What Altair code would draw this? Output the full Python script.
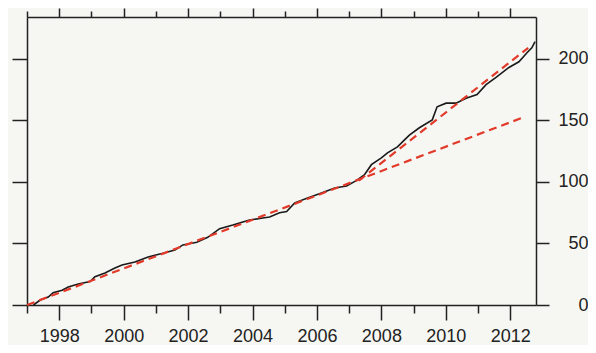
import altair as alt
import pandas as pd

# Cumulative count (black line)
years = [1997.2, 1997.41, 1997.66, 1997.81, 1998.09, 1998.28, 1998.59, 1998.96,
         1999.11, 1999.42, 1999.73, 1999.95, 2000.35, 2000.76, 2001.0, 2001.22,
         2001.59, 2001.84, 2002.27, 2002.61, 2002.98, 2003.39, 2003.7, 2003.91,
         2004.32, 2004.53, 2004.84, 2005.06, 2005.31, 2005.71, 2006.14, 2006.55,
         2006.92, 2007.22, 2007.47, 2007.69, 2008.0, 2008.19, 2008.5, 2008.71,
         2008.87, 2009.18, 2009.58, 2009.73, 2010.01, 2010.32, 2010.63, 2010.97,
         2011.25, 2011.56, 2011.96, 2012.27, 2012.52, 2012.67, 2012.77]
counts = [0, 4, 6.5, 10, 12, 14.6, 17, 19,
          23, 26, 30, 32.5, 35, 39, 40.7, 42,
          44.7, 48.8, 51, 55, 62, 65, 67.5, 69,
          70.7, 71.5, 75, 76, 83, 87, 91, 95,
          96.7, 101, 105.7, 114, 119.5, 123.6, 128.5, 134,
          138, 144, 150.4, 161, 164, 164, 168, 171,
          179, 185, 193, 197.6, 205, 209, 214]

# Red dashed trend lines
fit_series = ["early", "early", "late", "late"]
fit_years = [1997.0, 2012.46, 2007.3, 2012.56]
fit_counts = [0, 153, 101, 209]

tick_years = list(range(1997, 2013))
y_ticks = [0, 50, 100, 150, 200]

df = pd.DataFrame({"year": years, "count": counts})
fit = pd.DataFrame({"series": fit_series, "year": fit_years, "count": fit_counts})

font = "Liberation Sans"
ink = "#222222"
xscale = alt.Scale(domain=[1997, 2012.8], nice=False, zero=False)
yscale = alt.Scale(domain=[0, 234], nice=False, zero=False)

common = dict(grid=False, title=None, domainColor=ink, domainWidth=1.5,
              tickColor=ink, tickWidth=1.5, labelFlush=False)

x_bottom = alt.Axis(orient="bottom", values=tick_years, format="d",
                    labelExpr="datum.value % 2 == 0 ? datum.label : ''",
                    tickSize=alt.ExprRef("datum.value % 2 == 0 ? 15 : 8"),
                    labelPadding=21, labelBaseline="alphabetic",
                    labelFont=font, labelFontSize=18, labelColor=ink, **common)
x_top = alt.Axis(orient="top", values=tick_years, labels=False,
                 tickSize=alt.ExprRef("datum.value % 2 == 0 ? 9 : 6"), **common)
y_left = alt.Axis(orient="left", values=y_ticks, labels=False, tickSize=15, **common)
y_right = alt.Axis(orient="right", values=y_ticks, tickSize=13, labelAlign="right",
                   labelPadding=39, labelBaseline="middle", labelFont=font,
                   labelFontSize=18, labelColor=ink, **common)

black = alt.Chart(df).mark_line(color="#1a1a1a", strokeWidth=1.6).encode(
    x=alt.X("year:Q", scale=xscale, axis=x_bottom),
    y=alt.Y("count:Q", scale=yscale, axis=y_left),
)

red = alt.Chart(fit).mark_line(color="#e23a2a", strokeWidth=2.2, strokeDash=[8, 5]).encode(
    x=alt.X("year:Q", scale=xscale, axis=x_top),
    y=alt.Y("count:Q", scale=yscale, axis=y_right),
    detail="series:N",
)

chart = alt.layer(black, red).resolve_axis(x="independent", y="independent").properties(
    width=509, height=288,
    padding={"left": 19, "top": 9, "right": 52, "bottom": 40},
    autosize=alt.AutoSizeParams(type="none"),
    background="#f6f7f2",
).configure_view(stroke=None)

chart.save("out.html", embed_options={"renderer": "svg", "actions": False})
